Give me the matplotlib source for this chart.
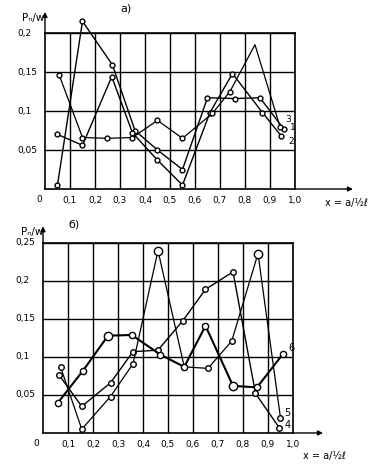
import matplotlib.pyplot as plt

# panel a) curves 1, 2, 3
x1 = [0.05, 0.15, 0.27, 0.36, 0.45, 0.55, 0.65, 0.76, 0.86, 0.955]
y1 = [0.005, 0.215, 0.159, 0.075, 0.05, 0.025, 0.117, 0.116, 0.117, 0.077]
x2 = [0.05, 0.15, 0.267, 0.35, 0.45, 0.55, 0.66, 0.75, 0.87, 0.945]
y2 = [0.07, 0.056, 0.144, 0.072, 0.037, 0.005, 0.098, 0.148, 0.098, 0.068]
x3 = [0.057, 0.15, 0.25, 0.35, 0.45, 0.55, 0.67, 0.74, 0.84, 0.94]
y3 = [0.146, 0.066, 0.065, 0.066, 0.088, 0.065, 0.097, 0.125, 0.185, 0.08]

# panel b) curves 4, 5, 6
x4 = [0.065, 0.155, 0.27, 0.36, 0.46, 0.56, 0.65, 0.76, 0.85, 0.945]
y4 = [0.076, 0.035, 0.066, 0.107, 0.109, 0.148, 0.189, 0.212, 0.052, 0.007]
x5 = [0.07, 0.155, 0.27, 0.36, 0.46, 0.565, 0.66, 0.755, 0.86, 0.95]
y5 = [0.087, 0.005, 0.048, 0.091, 0.24, 0.087, 0.085, 0.121, 0.236, 0.02]
x6 = [0.06, 0.16, 0.26, 0.355, 0.47, 0.565, 0.65, 0.76, 0.856, 0.96]
y6 = [0.04, 0.082, 0.128, 0.129, 0.103, 0.087, 0.141, 0.062, 0.06, 0.104]

xticks = [0.1, 0.2, 0.3, 0.4, 0.5, 0.6, 0.7, 0.8, 0.9, 1.0]
xtick_labels = ['0,1', '0,2', '0,3', '0,4', '0,5', '0,6', '0,7', '0,8', '0,9', '1,0']
yticks_a = [0.05, 0.1, 0.15, 0.2]
ylabels_a = ['0,05', '0,1', '0,15', '0,2']
yticks_b = [0.05, 0.1, 0.15, 0.2, 0.25]
ylabels_b = ['0,05', '0,1', '0,15', '0,2', '0,25']

plt.rcParams['font.family'] = 'DejaVu Sans'
fig = plt.figure(figsize=(3.73, 4.69), dpi=100)
ax1 = fig.add_axes([0.1206, 0.597, 0.6702, 0.3326])
ax2 = fig.add_axes([0.1153, 0.0768, 0.6702, 0.4051])


def setup(ax, ymax, yt, yl, arrow_x, arrow_y, zero_dx):
    ax.set_xlim(0, 1.0)
    ax.set_ylim(0, ymax)
    ax.set_xticks(xticks)
    ax.set_xticklabels(xtick_labels, fontsize=6.5)
    ax.set_yticks(yt)
    ax.set_yticklabels([])
    ax.tick_params(length=0, pad=5)
    ax.grid(True, color='black', lw=1.0)
    for s in ax.spines.values():
        s.set_linewidth(1.2)
    for v, t in zip(yt, yl):
        ax.text(-0.11, v, t, fontsize=6.5, ha='left', va='center')
    ax.annotate('0', xy=(0, 0), xytext=(zero_dx, -4), textcoords='offset points',
                fontsize=6.5, ha='center', va='top')
    ax.annotate('', xy=(arrow_x, 0), xytext=(1.0, 0), annotation_clip=False,
                arrowprops=dict(arrowstyle='-|>', lw=1.0, color='black', mutation_scale=7, shrinkA=0, shrinkB=0))
    ax.annotate('', xy=(0, arrow_y), xytext=(0, ymax), annotation_clip=False,
                arrowprops=dict(arrowstyle='-|>', lw=1.0, color='black', mutation_scale=7, shrinkA=0, shrinkB=0))


setup(ax1, 0.2, yticks_a, ylabels_a, 1.232, 0.227, -4)
setup(ax2, 0.25, yticks_b, ylabels_b, 1.12, 0.272, -5)

style = dict(color='black', marker='o', mfc='white', mec='black', clip_on=False)

ax1.plot(x1, y1, lw=1.0, ms=3.5, **style)
ax1.plot(x2, y2, lw=1.0, ms=3.5, **style)
ax1.plot(x3, y3, lw=0.9, ms=3.5, markevery=[0, 1, 2, 3, 4, 5, 6, 7, 9], **style)

ax2.plot(x4, y4, lw=1.0, ms=4, **style)
ax2.plot(x5, y5, lw=0.9, ms=4, **style)
ax2.plot(x5, y5, lw=0, ms=6, markevery=[4, 8], **style)
ax2.plot(x6, y6, lw=1.5, ms=4.5, **style)
ax2.plot(x6, y6, lw=0, ms=6, markevery=[2, 7], **style)

# curve numbers
ax1.text(0.96, 0.086, '3', fontsize=6.5)
ax1.text(0.98, 0.076, '1', fontsize=6.5)
ax1.text(0.975, 0.058, '2', fontsize=6.5)
ax2.text(0.98, 0.108, '6', fontsize=7)
ax2.text(0.965, 0.022, '5', fontsize=7)
ax2.text(0.965, 0.006, '4', fontsize=7)

# titles and axis names
ax1.text(0.3, 0.228, 'a)', fontsize=8)
ax1.text(-0.09, 0.215, 'Pₙ/w', fontsize=7.5)
ax2.text(0.1, 0.27, 'б)', fontsize=8)
ax2.text(-0.09, 0.26, 'Pₙ/w', fontsize=7.5)
ax1.text(1.12, -0.018, 'x = a/½ℓ', fontsize=7, va='center')
ax2.text(1.04, -0.03, 'x = a/½ℓ', fontsize=7, va='center')

fig.savefig('out.png', dpi=100)
